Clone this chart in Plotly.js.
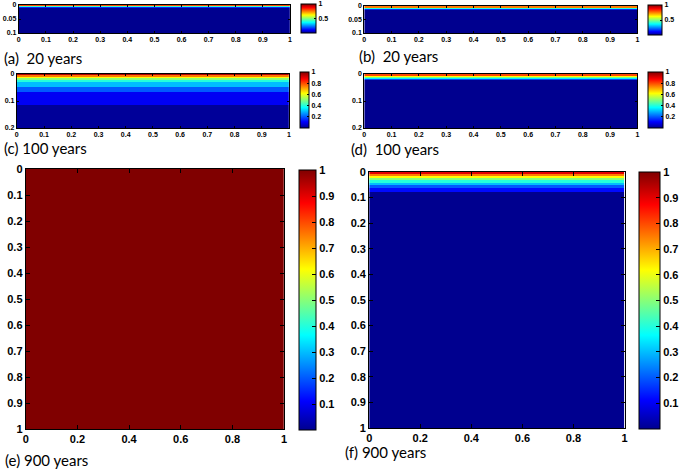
<!DOCTYPE html>
<html><head><meta charset="utf-8">
<script src="https://cdn.plot.ly/plotly-3.0.1.min.js"></script>
<style>html,body{margin:0;padding:0;background:#fff}#chart{width:685px;height:469px}</style>
</head><body><div id="chart"></div>
<script>
// Depth bin edges and concentration values
const xEdges = [0, 1];
const depthEdgesA = [0, 0.004, 0.0085, 0.012, 0.1];
const valuesA = [0.8, 0.42, 0.15, 0];
const depthEdgesB = [0, 0.006, 0.01, 0.013, 0.1];
const valuesB = [0.75, 0.4, 0.15, 0];
const depthEdgesC = [0, 0.004, 0.01, 0.015, 0.022, 0.031, 0.047, 0.065, 0.115, 0.2];
const valuesC = [0.95, 0.75, 0.62, 0.5, 0.4, 0.3, 0.2, 0.1, 0.01];
const depthEdgesD = [0, 0.006, 0.01, 0.0135, 0.017, 0.022, 0.2];
const valuesD = [0.8, 0.62, 0.48, 0.35, 0.18, 0];
const depthEdgesE = [0, 1];
const valuesE = [1];
const depthEdgesF = [0, 0.008, 0.016, 0.025, 0.033, 0.042, 0.052, 0.062, 0.078, 1];
const valuesF = [0.9, 0.75, 0.62, 0.5, 0.4, 0.3, 0.2, 0.12, 0];

const panelLabels = ['(a)  20 years', '(b)  20 years', '(c) 100 years', '(d)  100 years', '(e) 900 years', '(f) 900 years'];
const xTicksSmall = [0, 0.1, 0.2, 0.3, 0.4, 0.5, 0.6, 0.7, 0.8, 0.9, 1];
const xTicksBig = [0, 0.2, 0.4, 0.6, 0.8, 1];
const yTicksAB = [0, 0.05, 0.1];
const yTicksCD = [0, 0.1, 0.2];
const yTicksEF = [0, 0.1, 0.2, 0.3, 0.4, 0.5, 0.6, 0.7, 0.8, 0.9, 1];
const cbTicksAB = [0.5, 1];
const cbTicksCD = [0.2, 0.4, 0.6, 0.8, 1];
const cbTicksEF = [0.1, 0.2, 0.3, 0.4, 0.5, 0.6, 0.7, 0.8, 0.9, 1];

const W = 685, H = 469;
const jet = [[0,'rgb(0,0,143)'],[0.111,'rgb(0,0,255)'],[0.365,'rgb(0,255,255)'],[0.619,'rgb(255,255,0)'],[0.873,'rgb(255,0,0)'],[1,'rgb(128,0,0)']];
const FONT = 'Liberation Sans, Arial, sans-serif';

// pixel boxes: plot [x0,x1,y0,y1], colorbar [x0,x1,y0,y1]
const panels = [
  {edges: depthEdgesA, vals: valuesA, plot:[19,293,5,33], cb:[304,319,4,33], yt:yTicksAB, xt:xTicksSmall, cbt:cbTicksAB, fs:7, ymax:0.1, lab:[2,58]},
  {edges: depthEdgesB, vals: valuesB, plot:[368,644,6,33], cb:[655,669,5,35], yt:yTicksAB, xt:xTicksSmall, cbt:cbTicksAB, fs:7, ymax:0.1, lab:[361,56]},
  {edges: depthEdgesC, vals: valuesC, plot:[17,292,74,128], cb:[303,312,72,128], yt:yTicksCD, xt:xTicksSmall, cbt:cbTicksCD, fs:7, ymax:0.2, lab:[2,148]},
  {edges: depthEdgesD, vals: valuesD, plot:[368,644,74,128], cb:[655,670,72,128], yt:yTicksCD, xt:xTicksSmall, cbt:cbTicksCD, fs:7, ymax:0.2, lab:[353,149]},
  {edges: depthEdgesE, vals: valuesE, plot:[26,287,169,429], cb:[302,319,170,430], yt:yTicksEF, xt:xTicksBig, cbt:cbTicksEF, fs:11, ymax:1, lab:[3,460]},
  {edges: depthEdgesF, vals: valuesF, plot:[373,631,172,428], cb:[646,667,172,429], yt:yTicksEF, xt:xTicksBig, cbt:cbTicksEF, fs:11, ymax:1, lab:[347,452]}
];

const data = [];
const layout = {
  width: W, height: H, margin: {l:0, r:0, t:0, b:0},
  paper_bgcolor: '#fff', plot_bgcolor: '#fff', showlegend: false,
  font: {family: FONT, color: '#000'},
  annotations: []
};

panels.forEach((p, i) => {
  const n = i + 1;
  const xa = 'xaxis' + (n === 1 ? '' : n), ya = 'yaxis' + (n === 1 ? '' : n);
  const xr = 'x' + (n === 1 ? '' : n), yr = 'y' + (n === 1 ? '' : n);
  data.push({
    type: 'heatmap', x: xEdges, y: p.edges, z: p.vals.map(v => [v]),
    xaxis: xr, yaxis: yr, colorscale: jet, zmin: 0, zmax: 1, zsmooth: false,
    hoverinfo: 'skip',
    colorbar: {
      x: p.cb[0] / W, xanchor: 'left', xpad: 0, ypad: 0,
      y: 1 - (p.cb[2] + p.cb[3]) / 2 / H, yanchor: 'middle',
      len: (p.cb[3] - p.cb[2]) / H, lenmode: 'fraction',
      thickness: p.cb[1] - p.cb[0], thicknessmode: 'pixels',
      outlinewidth: 1, outlinecolor: '#000',
      tickvals: p.cbt, ticktext: p.cbt.map(String),
      ticks: 'inside', ticklen: p.fs > 8 ? 4 : 2, tickcolor: '#000',
      tickfont: {size: p.fs, family: FONT, weight: 'bold', color: '#000'}
    }
  });
  const common = {
    showline: true, linecolor: '#000', linewidth: 1, mirror: 'ticks',
    ticks: 'inside', ticklen: p.fs > 8 ? 4 : 2, tickcolor: '#000',
    showgrid: false, zeroline: false,
    tickfont: {size: p.fs, family: FONT, weight: 'bold', color: '#000'}
  };
  layout[xa] = Object.assign({}, common, {
    domain: [p.plot[0] / W, p.plot[1] / W], range: [0, 1], anchor: yr,
    tickvals: p.xt, ticktext: p.xt.map(String)
  });
  layout[ya] = Object.assign({}, common, {
    domain: [1 - p.plot[3] / H, 1 - p.plot[2] / H], range: [p.ymax, 0], anchor: xr,
    tickvals: p.yt, ticktext: p.yt.map(String)
  });
  layout.annotations.push({
    text: panelLabels[i], xref: 'paper', yref: 'paper',
    x: p.lab[0] / W, y: 1 - p.lab[1] / H, xanchor: 'left', yanchor: 'middle',
    showarrow: false, font: {size: 15, family: 'Lato, Open Sans, sans-serif', color: '#000'}
  });
});

Plotly.newPlot('chart', data, layout, {staticPlot: true, displayModeBar: false});
</script></body></html>
